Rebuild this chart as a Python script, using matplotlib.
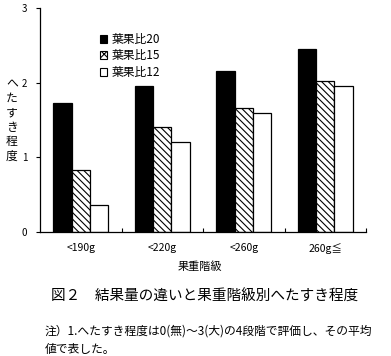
import matplotlib
matplotlib.use("Agg")
import matplotlib.pyplot as plt
import numpy as np
from matplotlib.patches import Patch

plt.rcParams['font.family'] = ['Noto Sans CJK JP', 'DejaVu Sans']
plt.rcParams['hatch.linewidth'] = 0.8

categories = ['<190g', '<220g', '<260g', '260g≦']
series_names = ['葉果比20', '葉果比15', '葉果比12']
ratio20 = [1.73, 1.95, 2.15, 2.45]
ratio15 = [0.83, 1.41, 1.66, 2.02]
ratio12 = [0.36, 1.20, 1.59, 1.95]
y_ticks = [0, 1, 2, 3]

fig = plt.figure(figsize=(3.91, 3.56), dpi=100)
ax = fig.add_axes([40/391, 1-232/356, 326/391, 224/356])

x = np.arange(len(categories))
w = 0.225
styles = [dict(color='black', edgecolor='black'),
          dict(color='white', edgecolor='black', hatch='\\\\\\\\\\'),
          dict(color='white', edgecolor='black')]
for i, (vals, st) in enumerate(zip([ratio20, ratio15, ratio12], styles)):
    ax.bar(x + (i - 1) * w, vals, width=w, linewidth=0.9, **st)

ax.set_xlim(-0.5, len(categories) - 0.5)
ax.set_ylim(0, 3)
ax.set_yticks(y_ticks)
ax.set_yticklabels([str(t) for t in y_ticks], fontsize=7)
ax.tick_params(axis='y', direction='out', length=3, width=0.8, pad=6)
ax.set_xticks(x + 0.5, minor=True)
ax.set_xticks(x)
ax.set_xticklabels(categories, fontsize=7.5)
ax.tick_params(axis='x', which='major', length=0, pad=8)
ax.tick_params(axis='x', which='minor', direction='in', length=3, width=0.8)
for s in ['top', 'right']:
    ax.spines[s].set_visible(False)
for s in ['left', 'bottom']:
    ax.spines[s].set_linewidth(0.9)

handles = [Patch(facecolor='black', edgecolor='black', linewidth=0.8),
           Patch(facecolor='white', edgecolor='black', hatch='xxxx', linewidth=0.8),
           Patch(facecolor='white', edgecolor='black', linewidth=0.8)]
ax.legend(handles, series_names, loc='upper left', bbox_to_anchor=(0.165, 0.915),
          frameon=False, fontsize=8.5, handlelength=0.65, handleheight=0.65,
          handletextpad=0.4, labelspacing=0.3, borderpad=0)

fig.text(12/391, 1-120/356, '\n'.join('へたすき程度'), fontsize=8.5,
         ha='center', va='center', linespacing=1.15)
fig.text(200/391, 1-267/356, '果重階級', fontsize=8, ha='center', va='center')
fig.text(205/391, 1-297/356, '図２　結果量の違いと果重階級別へたすき程度', fontsize=10.5,
         ha='center', va='center')
fig.text(45/391, 1-331/356, '注）1.へたすき程度は0(無)～3(大)の4段階で評価し、その平均',
         fontsize=8.5, ha='left', va='center')
fig.text(45/391, 1-349/356, '値で表した。', fontsize=8.5, ha='left', va='center')

fig.savefig('out.png', dpi=100)
